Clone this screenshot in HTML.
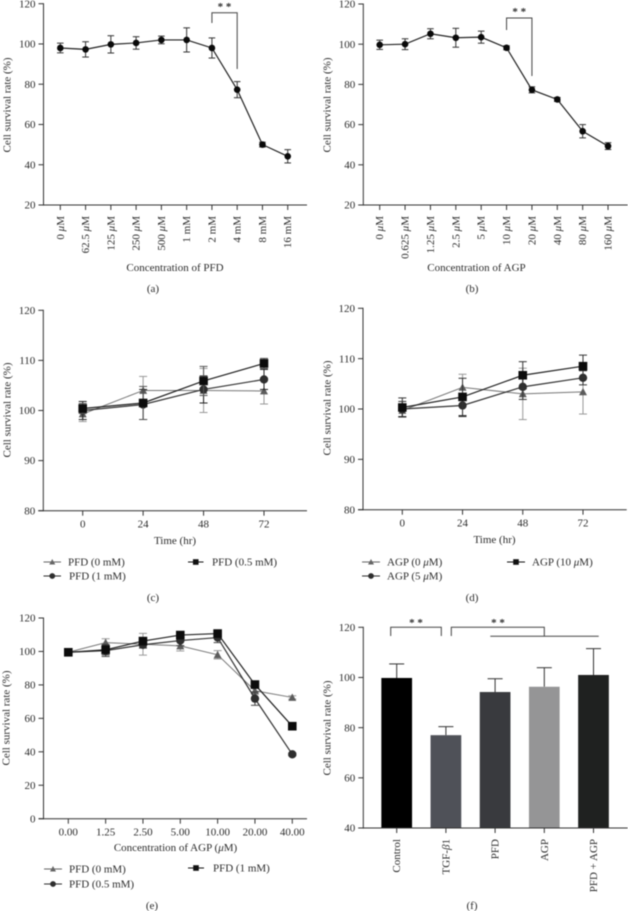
<!DOCTYPE html>
<html lang="en">
<head>
<meta charset="utf-8">
<title>Cell survival rate panels</title>
<style>
html,body{margin:0;padding:0;background:#fff;width:628px;height:911px;overflow:hidden}
svg{display:block;filter:blur(0.45px)}
text{font-family:"Liberation Serif",serif;font-size:11px;fill:#2b2b2b}
</style>
</head>
<body>
<svg id="figure" width="628" height="911" viewBox="0 0 628 911" xmlns="http://www.w3.org/2000/svg"></svg>
<script>
// Panel (a)
const aCategories = ['0 μM','62.5 μM','125 μM','250 μM','500 μM','1 mM','2 mM','4 mM','8 mM','16 mM'];
const aValues = [98,97.3,99.8,100.5,102,102,98,77.3,50,44.2];
const aErrors = [2.4,3.8,4.3,3.1,1.9,6,5,4,1.2,3.3];
const aTicks = [20,40,60,80,100,120];
// Panel (b)
const bCategories = ['0 μM','0.625 μM','1.25 μM','2.5 μM','5 μM','10 μM','20 μM','40 μM','80 μM','160 μM'];
const bValues = [99.7,100,105.2,103.2,103.5,98.2,77.3,72.5,56.7,49.3];
const bErrors = [2.3,2.7,2.5,4.7,3,1,1.5,1,3.3,1.7];
const bTicks = [20,40,60,80,100,120];
// Panel (c)
const cCategories = ['0','24','48','72'];
const cTicks = [80,90,100,110,120];
const cPfd0 = [99.3,104,104,103.9];
const cPfd0Err = [1.5,2.8,4.4,2.6];
const cPfd1 = [100,101.2,104.2,106.2];
const cPfd1Err = [1.8,3,2.7,2];
const cPfd05 = [100.4,101.5,105.9,109.4];
const cPfd05Err = [1,3.3,2.9,1];
// Panel (d)
const dCategories = ['0','24','48','72'];
const dTicks = [80,90,100,110,120];
const dAgp0 = [99.7,104.3,103,103.4];
const dAgp0Err = [1.2,2.6,5.1,4.4];
const dAgp5 = [100,100.7,104.4,106.2];
const dAgp5Err = [1.5,2.2,2.5,1.4];
const dAgp10 = [100.3,102.4,106.7,108.5];
const dAgp10Err = [1.9,3.7,2.7,2.2];
// Panel (e)
const eCategories = ['0.00','1.25','2.50','5.00','10.00','20.00','40.00'];
const eTicks = [0,20,40,60,80,100,120];
const ePfd0 = [99.5,105.3,104.3,103.3,98,76.5,72.5];
const ePfd0Err = [0.5,2.3,6.5,3,2.5,2,1];
const ePfd05 = [99.5,100.5,104,106.5,108.3,71.8,38.5];
const ePfd05Err = [0.5,3.5,2,3,3,4,0.8];
const ePfd1 = [99.5,101,106.2,109.8,110.7,80.2,55.3];
const ePfd1Err = [0.5,3,2,1.5,1,1.5,1];
// Panel (f)
const fCategories = ['Control','TGF-β1','PFD','AGP','PFD + AGP'];
const fValues = [99.8,77,94.2,96.3,101];
const fErrors = [5.6,3.4,5.3,7.6,10.5];
const fTicks = [40,60,80,100,120];

const svg = document.getElementById('figure');
const NS = 'http://www.w3.org/2000/svg';

function make(tag, attrs, name, parent) {
  const node = document.createElementNS(NS, tag);
  for (const k in attrs) node.setAttribute(k, attrs[k]);
  
  
  (parent || svg).appendChild(node);
  return node;
}
function line(x1, y1, x2, y2, stroke, w, name, parent) {
  return make('line', {x1, y1, x2, y2, stroke, 'stroke-width': w}, name, parent);
}
function label(str, attrs, name, parent) {
  const t = make('text', attrs, name, parent);
  const parts = str.split(/(μ|β)/);
  parts.forEach(function (p) {
    if (!p) return;
    const s = document.createElementNS(NS, 'tspan');
    s.textContent = p;
    if (p === 'μ' || p === 'β') s.setAttribute('font-style', 'italic');
    t.appendChild(s);
  });
  return t;
}
function linear(d0, d1, r0, r1) {
  return function (v) { return r0 + (v - d0) * (r1 - r0) / (d1 - d0); };
}
function axes(p) {
  const g = make('g', {}, p.id + '-axes');
  line(p.left, p.top - 0.5, p.left, p.bottom + 0.6, '#333', 1, p.id + '-y-axis', g);
  line(p.left - 5, p.bottom, p.right, p.bottom, '#333', 1, p.id + '-x-axis', g);
  p.ticks.forEach(function (v) {
    const y = p.y(v);
    line(p.left - 5, y, p.left, y, '#333', 1, p.id + '-y-tick', g);
    label(String(v), {x: p.left - 8, y: y + 3.6, 'text-anchor': 'end'}, p.id + '-y-tick-label', g);
  });
  p.categories.forEach(function (c, i) {
    const x = p.x(i);
    line(x, p.bottom, x, p.bottom + 5, '#333', 1, p.id + '-x-tick', g);
    if (p.rotate) {
      const ly = p.bottom + p.rotateGap;
      label(c, {x: x + 3.5, y: ly, 'text-anchor': 'end', transform: 'rotate(-90 ' + (x + 3.5) + ' ' + ly + ')'}, p.id + '-x-tick-label', g);
    } else {
      label(c, {x: x, y: p.bottom + p.labelGap, 'text-anchor': 'middle'}, p.id + '-x-tick-label', g);
    }
  });
  label('Cell survival rate (%)', {x: p.yTitleX, y: p.yTitleY, 'text-anchor': 'middle', transform: 'rotate(-90 ' + p.yTitleX + ' ' + p.yTitleY + ')'}, p.id + '-y-axis-title', g);
  if (p.xTitle) label(p.xTitle, {x: p.xTitleX, y: p.xTitleY, 'text-anchor': 'middle'}, p.id + '-x-axis-title', g);
  label(p.caption, {x: p.captionX, y: p.captionY, 'text-anchor': 'middle'}, p.id + '-caption', g);
}
function marker(shape, x, y, size, color, name, parent) {
  if (shape === 'circle') return make('circle', {cx: x, cy: y, r: size, fill: color}, name, parent);
  if (shape === 'square') return make('rect', {x: x - size, y: y - size, width: 2 * size, height: 2 * size, fill: color}, name, parent);
  const pts = (x - size) + ',' + (y + size * 0.85) + ' ' + (x + size) + ',' + (y + size * 0.85) + ' ' + x + ',' + (y - size);
  return make('polygon', {points: pts, fill: color}, name, parent);
}
function series(p, s) {
  const g = make('g', {}, p.id + '-series-' + s.key);
  const d = s.values.map(function (v, i) { return (i ? 'L' : 'M') + p.x(i) + ' ' + p.y(v); }).join(' ');
  make('path', {d: d, fill: 'none', stroke: s.lineColor, 'stroke-width': s.lineWidth}, p.id + '-line-' + s.key, g);
  s.values.forEach(function (v, i) {
    const x = p.x(i), hi = p.y(v + s.errors[i]), lo = p.y(v - s.errors[i]);
    line(x, hi, x, lo, s.errColor, 1, p.id + '-error-bar-' + s.key, g);
    line(x - s.cap, hi, x + s.cap, hi, s.errColor, 1, p.id + '-error-cap-' + s.key, g);
    line(x - s.cap, lo, x + s.cap, lo, s.errColor, 1, p.id + '-error-cap-' + s.key, g);
    marker(s.shape, x, p.y(v), s.size, s.color, p.id + '-point-' + s.key, g);
  });
}
function legendEntry(id, key, shape, color, x1, x2, y, text, textX) {
  const g = make('g', {}, id + '-legend-entry-' + key);
  line(x1, y, x2, y, color, 1, id + '-legend-line-' + key, g);
  const size = shape === 'circle' ? 2.9 : shape === 'square' ? 2.8 : 3;
  marker(shape, (x1 + x2) / 2, y, size, color, id + '-legend-marker-' + key, g);
  label(text, {x: textX, y: y + 3.6}, id + '-legend-label-' + key, g);
}
function stars(x, y, name) {
  const t = label('* *', {x: x, y: y, 'text-anchor': 'middle'}, name);
  t.style.fontSize = '11px';
  t.style.fontWeight = 'bold';
}
function bracket(points, name) {
  make('polyline', {points: points.map(function (q) { return q.join(','); }).join(' '), fill: 'none', stroke: '#444', 'stroke-width': 1}, name);
}

/* Panel a */
const pa = {id: 'panel-a', left: 43.5, right: 307, top: 3.7, bottom: 205, ticks: aTicks, categories: aCategories,
  y: linear(20, 120, 205, 3.7), x: function (i) { return 60.3 + i * 25.27; }, rotate: true, rotateGap: 11,
  yTitleX: 10.5, yTitleY: 105, xTitle: 'Concentration of PFD', xTitleX: 175, xTitleY: 271,
  caption: '(a)', captionX: 153, captionY: 292};
axes(pa);
series(pa, {key: 'pfd', values: aValues, errors: aErrors, color: '#0a0a0a', lineColor: '#222', lineWidth: 1.2, errColor: '#333', cap: 3.3, shape: 'circle', size: 3.3});
bracket([[pa.x(6), 23], [pa.x(6), 12.7], [pa.x(7), 12.7], [pa.x(7), 69]], 'panel-a-significance-bracket');
stars((pa.x(6) + pa.x(7)) / 2, 10, 'panel-a-significance-stars');

/* Panel b */
const pb = {id: 'panel-b', left: 363.3, right: 627.7, top: 4, bottom: 205, ticks: bTicks, categories: bCategories,
  y: linear(20, 120, 205, 4), x: function (i) { return 379.7 + i * 25.37; }, rotate: true, rotateGap: 11,
  yTitleX: 330.5, yTitleY: 105, xTitle: 'Concentration of AGP', xTitleX: 476.5, xTitleY: 271,
  caption: '(b)', captionX: 472, captionY: 292};
axes(pb);
series(pb, {key: 'agp', values: bValues, errors: bErrors, color: '#0a0a0a', lineColor: '#222', lineWidth: 1.2, errColor: '#333', cap: 3.3, shape: 'circle', size: 3.3});
bracket([[pb.x(5), 30], [pb.x(5), 18], [pb.x(6), 18], [pb.x(6), 76]], 'panel-b-significance-bracket');
stars((pb.x(5) + pb.x(6)) / 2, 15, 'panel-b-significance-stars');

/* Panel c */
const pc = {id: 'panel-c', left: 43.3, right: 307, top: 310.3, bottom: 510.7, ticks: cTicks, categories: cCategories,
  y: linear(80, 120, 510.7, 310.3), x: function (i) { return 82.7 + i * 60.43; }, labelGap: 17,
  yTitleX: 10.5, yTitleY: 410, xTitle: 'Time (hr)', xTitleX: 175, xTitleY: 544,
  caption: '(c)', captionX: 153, captionY: 601};
axes(pc);
series(pc, {key: 'pfd-0-mm', values: cPfd0, errors: cPfd0Err, color: '#5c5c5c', lineColor: '#777', lineWidth: 1, errColor: '#999', cap: 4, shape: 'triangle', size: 4});
series(pc, {key: 'pfd-1-mm', values: cPfd1, errors: cPfd1Err, color: '#2e2e2e', lineColor: '#333', lineWidth: 1.2, errColor: '#222', cap: 4, shape: 'circle', size: 4.2});
series(pc, {key: 'pfd-0-5-mm', values: cPfd05, errors: cPfd05Err, color: '#0c0c0c', lineColor: '#222', lineWidth: 1.2, errColor: '#555', cap: 4, shape: 'square', size: 4.3});
legendEntry('panel-c', 'pfd-0-mm', 'triangle', '#666', 43.5, 61, 562, 'PFD (0 mM)', 68);
legendEntry('panel-c', 'pfd-0-5-mm', 'square', '#111', 188, 203.5, 562, 'PFD (0.5 mM)', 212);
legendEntry('panel-c', 'pfd-1-mm', 'circle', '#2e2e2e', 43.5, 61, 576, 'PFD (1 mM)', 69);

/* Panel d */
const pd = {id: 'panel-d', left: 363, right: 626.7, top: 308.3, bottom: 509.7, ticks: dTicks, categories: dCategories,
  y: linear(80, 120, 509.7, 308.3), x: function (i) { return 402.3 + i * 60.23; }, labelGap: 17,
  yTitleX: 330.5, yTitleY: 408, xTitle: 'Time (hr)', xTitleX: 494.5, xTitleY: 543,
  caption: '(d)', captionX: 472, captionY: 601};
axes(pd);
series(pd, {key: 'agp-0-um', values: dAgp0, errors: dAgp0Err, color: '#5c5c5c', lineColor: '#777', lineWidth: 1, errColor: '#999', cap: 4, shape: 'triangle', size: 4});
series(pd, {key: 'agp-5-um', values: dAgp5, errors: dAgp5Err, color: '#2e2e2e', lineColor: '#333', lineWidth: 1.2, errColor: '#333', cap: 4, shape: 'circle', size: 4.2});
series(pd, {key: 'agp-10-um', values: dAgp10, errors: dAgp10Err, color: '#0c0c0c', lineColor: '#222', lineWidth: 1.2, errColor: '#333', cap: 4, shape: 'square', size: 4.3});
legendEntry('panel-d', 'agp-0-um', 'triangle', '#666', 362, 380, 562, 'AGP (0 μM)', 387);
legendEntry('panel-d', 'agp-10-um', 'square', '#111', 507, 525, 562, 'AGP (10 μM)', 532);
legendEntry('panel-d', 'agp-5-um', 'circle', '#2e2e2e', 362, 380, 576, 'AGP (5 μM)', 387);

/* Panel e */
const pe = {id: 'panel-e', left: 43.5, right: 307, top: 618, bottom: 818.7, ticks: eTicks, categories: eCategories,
  y: linear(0, 120, 818.7, 618), x: function (i) { return 68.3 + i * 37.33; }, labelGap: 17,
  yTitleX: 9.5, yTitleY: 718, xTitle: 'Concentration of AGP (μM)', xTitleX: 175.5, xTitleY: 851,
  caption: '(e)', captionX: 152, captionY: 909};
axes(pe);
series(pe, {key: 'pfd-0-mm', values: ePfd0, errors: ePfd0Err, color: '#5c5c5c', lineColor: '#777', lineWidth: 1, errColor: '#999', cap: 4, shape: 'triangle', size: 4});
series(pe, {key: 'pfd-0-5-mm', values: ePfd05, errors: ePfd05Err, color: '#2e2e2e', lineColor: '#333', lineWidth: 1.2, errColor: '#444', cap: 4, shape: 'circle', size: 4.2});
series(pe, {key: 'pfd-1-mm', values: ePfd1, errors: ePfd1Err, color: '#0c0c0c', lineColor: '#222', lineWidth: 1.2, errColor: '#333', cap: 4, shape: 'square', size: 4.3});
legendEntry('panel-e', 'pfd-0-mm', 'triangle', '#666', 44, 62, 869, 'PFD (0 mM)', 69);
legendEntry('panel-e', 'pfd-1-mm', 'square', '#111', 188, 204, 868, 'PFD (1 mM)', 213);
legendEntry('panel-e', 'pfd-0-5-mm', 'circle', '#2e2e2e', 44, 62, 884, 'PFD (0.5 mM)', 69);

/* Panel f */
const fCenterStart = 396.7, fCenterStep = 49.2, fBarWidth = 30.7;
const fColors = ['#000000','#4f5158','#393a3e','#959596','#1f2120'];
const pf = {id: 'panel-f', left: 363.3, right: 627.7, top: 627.3, bottom: 828, ticks: fTicks, categories: fCategories,
  y: linear(40, 120, 828, 627.3), x: function (i) { return fCenterStart + i * fCenterStep; }, rotate: true, rotateGap: 11,
  yTitleX: 330.5, yTitleY: 728, caption: '(f)', captionX: 472, captionY: 909};
fValues.forEach(function (v, i) {
  const x = pf.x(i), top = pf.y(v), hi = pf.y(v + fErrors[i]);
  line(x, top, x, hi, '#333', 1, 'panel-f-error-bar', svg);
  line(x - 7.5, hi, x + 7.5, hi, '#333', 1, 'panel-f-error-cap', svg);
  make('rect', {x: x - fBarWidth / 2, y: top, width: fBarWidth, height: pf.bottom - top, fill: fColors[i]}, 'panel-f-bar', svg);
});
axes(pf);
bracket([[390.7, 636], [390.7, 627.3], [441.3, 627.3], [441.3, 636]], 'panel-f-bracket-control-vs-tgf');
stars(416, 626, 'panel-f-stars-control-vs-tgf');
bracket([[451.3, 636], [451.3, 627.3], [544.3, 627.3], [544.3, 636]], 'panel-f-bracket-tgf-vs-treatments');
line(490.3, 636.3, 598.7, 636.3, '#444', 1, 'panel-f-treatment-span-line');
stars(498, 626, 'panel-f-stars-tgf-vs-treatments');
</script>
</body>
</html>
